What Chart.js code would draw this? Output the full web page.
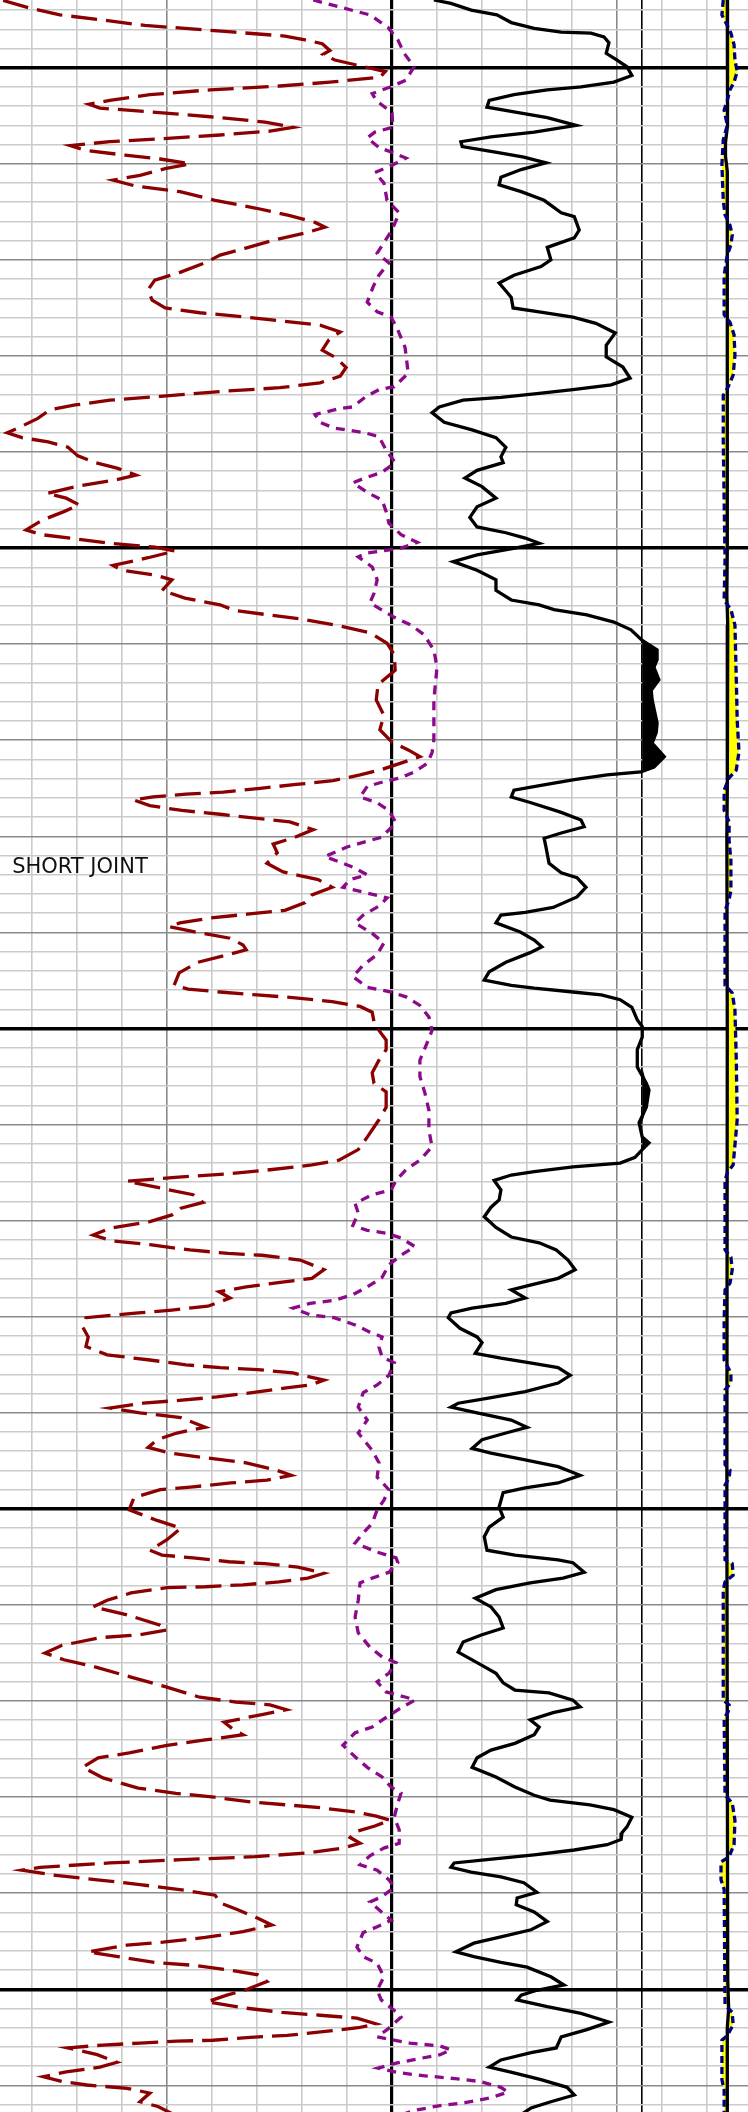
<!DOCTYPE html>
<html>
<head>
<meta charset="utf-8">
<script src="https://cdn.jsdelivr.net/npm/chart.js@4/dist/chart.umd.min.js"></script>
<style>
  html, body { margin: 0; padding: 0; background: #ffffff; }
  canvas { display: block; }
</style>
</head>
<body>
<canvas id="log_chart" width="748" height="2112"></canvas>
<script>
// depth window (ft) and track window (chart divisions)
const DEPTH_TOP = 1092.95;
const DEPTH_BOTTOM = 1312.77;
const DIV_LEFT = -8.7;
const DIV_RIGHT = 7.92;
const BASELINE = 5.57;   // cut-off line in track 2

// [depth, value] pairs
const redCurve = [
  [1093.0,-8.63],[1093.8,-8.03],[1094.5,-7.37],[1095.0,-6.48],[1095.6,-5.48],[1095.9,-4.59],[1096.3,-3.48],[1096.7,-2.37],[1097.1,-1.92],[1097.5,-1.54],
  [1098.2,-1.37],[1098.6,-1.52],[1099.2,-1.26],[1099.8,-0.70],[1100.4,-0.14],[1101.0,-0.26],[1101.5,-1.37],[1101.9,-2.48],[1102.3,-4.03],[1102.8,-5.37],
  [1103.4,-6.26],[1103.8,-6.72],[1104.2,-6.48],[1104.6,-5.37],[1105.1,-4.03],[1105.65,-2.81],[1106.2,-2.19],[1106.6,-2.70],[1107.0,-3.81],[1107.4,-5.14],
  [1107.7,-6.26],[1108.1,-7.14],[1108.6,-6.81],[1109.1,-5.92],[1109.5,-5.14],[1110.0,-4.48],[1110.5,-5.03],[1111.2,-5.59],[1111.7,-6.19],[1112.3,-5.70],
  [1112.9,-4.70],[1113.8,-3.92],[1114.6,-3.03],[1115.4,-2.26],[1116.1,-1.70],[1116.6,-1.48],[1117.2,-1.92],[1117.9,-2.59],[1118.8,-3.26],[1119.5,-3.81],
  [1120.3,-4.14],[1121.3,-4.70],[1122.1,-5.26],[1123.1,-5.41],[1124.2,-5.32],[1125.0,-5.03],[1125.5,-4.26],[1125.95,-3.26],[1126.4,-2.37],[1126.8,-1.59],
  [1127.5,-1.14],[1128.3,-1.39],[1129.4,-1.54],[1130.2,-1.23],[1131.2,-1.01],[1132.1,-1.14],[1132.8,-1.59],[1133.3,-2.48],[1133.7,-3.81],[1134.2,-5.14],
  [1134.6,-6.26],[1135.1,-7.03],[1135.6,-7.59],[1136.5,-7.86],[1137.3,-8.21],[1138.0,-8.54],[1138.5,-8.21],[1138.95,-7.63],[1139.5,-7.19],[1140.4,-6.97],
  [1141.1,-6.59],[1141.7,-6.08],[1142.4,-5.68],[1142.9,-6.14],[1143.5,-6.92],[1144.3,-7.66],[1144.8,-7.23],[1145.5,-6.94],[1146.2,-7.28],[1147.1,-7.77],
  [1148.1,-8.12],[1148.6,-7.77],[1149.05,-6.99],[1149.5,-6.26],[1149.9,-5.26],[1150.3,-4.81],[1151.0,-5.41],[1151.8,-6.19],[1152.3,-5.99],[1152.8,-5.26],
  [1153.3,-4.88],[1154.4,-5.10],[1155.2,-4.59],[1155.9,-3.81],[1156.5,-3.48],[1156.9,-2.81],[1157.4,-1.97],[1158.1,-1.14],[1158.8,-0.48],[1159.9,-0.10],
  [1161.1,0.06],[1162.7,0.08],[1164.2,-0.30],[1165.8,-0.34],[1167.4,-0.17],[1168.9,-0.26],[1170.2,0.01],[1171.0,0.37],[1171.7,0.63],[1172.4,0.19],
  [1173.1,-0.26],[1173.6,-0.70],[1174.2,-1.30],[1174.6,-2.12],[1175.0,-2.92],[1175.4,-3.74],[1175.6,-4.57],[1175.9,-5.30],[1176.2,-5.74],[1176.8,-5.37],
  [1177.3,-4.66],[1177.7,-3.81],[1178.1,-3.03],[1178.5,-2.26],[1179.3,-1.74],[1180.2,-2.21],[1180.8,-2.63],[1181.7,-2.54],[1182.8,-2.77],[1183.7,-2.41],
  [1184.5,-1.63],[1185.3,-1.32],[1186.1,-1.77],[1186.9,-1.92],[1187.7,-2.37],[1188.1,-3.21],[1188.5,-4.03],[1189.0,-4.70],[1189.4,-4.94],[1189.95,-4.37],
  [1190.6,-3.59],[1191.3,-3.30],[1191.8,-3.23],[1192.3,-3.63],[1193.1,-4.30],[1194.2,-4.72],[1195.5,-4.83],[1195.9,-4.52],[1196.2,-3.81],[1196.5,-2.99],
  [1196.8,-2.14],[1197.2,-1.32],[1197.7,-0.70],[1198.3,-0.43],[1199.3,-0.39],[1200.2,-0.28],[1201.2,-0.12],[1202.2,-0.12],[1203.3,-0.28],[1204.6,-0.43],
  [1205.7,-0.39],[1206.6,-0.12],[1208.2,-0.12],[1209.5,-0.28],[1211.3,-0.54],[1212.6,-0.74],[1213.7,-1.17],[1214.2,-1.77],[1214.7,-2.70],[1215.1,-3.59],
  [1215.5,-4.81],[1215.9,-5.88],[1216.6,-5.14],[1217.3,-4.41],[1218.1,-4.19],[1218.7,-4.68],[1219.4,-4.88],[1220.1,-5.37],[1220.8,-6.26],[1221.5,-6.63],
  [1222.1,-6.21],[1222.5,-5.37],[1223.05,-4.48],[1223.4,-3.63],[1223.6,-2.88],[1224.1,-2.03],[1225.1,-1.50],[1226.0,-1.77],[1226.4,-2.43],[1226.9,-3.23],
  [1227.4,-3.83],[1228.05,-3.59],[1228.9,-4.08],[1229.3,-4.88],[1229.6,-5.63],[1230.1,-6.79],[1231.1,-6.86],[1232.1,-6.74],[1233.1,-6.79],[1233.97,-6.32],
  [1234.5,-5.37],[1235.0,-4.57],[1235.3,-3.81],[1235.5,-2.97],[1235.85,-2.19],[1236.6,-1.50],[1237.1,-1.81],[1237.4,-2.34],[1237.9,-3.10],[1238.35,-3.88],
  [1238.7,-4.72],[1239.0,-5.52],[1239.5,-6.26],[1240.0,-5.59],[1240.5,-4.68],[1241.5,-4.14],[1242.1,-4.77],[1242.8,-5.21],[1243.6,-5.41],[1244.2,-4.90],
  [1244.7,-4.10],[1245.2,-3.23],[1245.95,-2.57],[1246.5,-2.23],[1247.0,-2.77],[1247.3,-3.57],[1247.7,-4.41],[1248.0,-5.14],[1248.8,-5.72],[1250.1,-5.83],
  [1251.2,-5.21],[1252.0,-4.68],[1253.2,-4.99],[1254.3,-5.37],[1254.8,-5.10],[1255.1,-4.41],[1255.5,-3.61],[1255.7,-2.81],[1256.05,-2.08],[1256.7,-1.50],
  [1257.2,-1.86],[1257.6,-2.50],[1257.9,-3.30],[1258.1,-4.14],[1258.2,-4.99],[1258.75,-5.79],[1259.5,-6.32],[1260.2,-6.63],[1261.0,-5.90],[1262.1,-5.14],
  [1262.6,-4.99],[1263.1,-5.59],[1263.4,-6.48],[1264.2,-7.32],[1265.0,-7.70],[1265.7,-7.28],[1266.45,-6.59],[1267.5,-5.79],[1268.5,-5.03],[1269.6,-4.26],
  [1270.1,-3.46],[1270.4,-2.70],[1270.9,-2.34],[1271.4,-2.88],[1272.2,-3.72],[1273.0,-3.50],[1273.5,-3.30],[1274.05,-4.14],[1274.6,-4.99],[1275.4,-5.83],
  [1275.9,-6.52],[1276.9,-6.86],[1278.0,-6.41],[1279.05,-5.63],[1279.6,-4.79],[1280.0,-3.94],[1280.5,-3.14],[1280.8,-2.34],[1281.1,-1.59],[1281.55,-0.79],
  [1281.97,-0.34],[1282.4,-0.03],[1283.0,-0.37],[1283.6,-0.81],[1284.2,-0.92],[1284.8,-0.70],[1285.3,-1.08],[1285.8,-1.86],[1286.2,-3.03],[1286.5,-4.66],
  [1286.85,-6.26],[1287.3,-7.81],[1287.6,-8.21],[1288.1,-7.52],[1288.6,-6.54],[1289.1,-5.59],[1289.7,-4.59],[1290.2,-3.92],[1291.0,-3.81],[1291.7,-3.43],
  [1292.6,-2.97],[1293.3,-2.66],[1294.0,-3.30],[1294.6,-4.14],[1295.1,-5.08],[1295.4,-5.88],[1296.1,-6.74],[1296.6,-6.08],[1297.2,-5.26],[1297.5,-4.41],
  [1298.0,-3.59],[1298.5,-2.97],[1299.2,-2.77],[1300.1,-3.26],[1300.6,-3.66],[1301.3,-4.10],[1301.95,-3.26],[1302.4,-2.43],[1302.7,-1.59],[1303.0,-0.77],
  [1303.6,-0.34],[1304.0,-0.74],[1304.4,-1.52],[1304.8,-2.32],[1305.0,-3.14],[1305.3,-3.97],[1305.4,-4.77],[1305.6,-5.59],[1305.8,-6.41],[1306.1,-7.19],
  [1306.8,-6.54],[1307.6,-6.10],[1308.1,-6.48],[1308.6,-7.23],[1309.1,-7.74],[1309.6,-7.32],[1309.96,-6.77],[1310.3,-5.88],[1310.8,-5.37],[1311.7,-5.59],
  [1312.2,-5.19],[1313.1,-4.81]
];

const purpleCurve = [
  [1092.95,-1.74],[1093.7,-1.14],[1094.5,-0.48],[1095.8,-0.08],[1097.1,0.14],[1098.5,0.28],[1099.9,0.50],[1101.3,0.32],[1102.0,-0.03],[1102.7,-0.43],
  [1103.4,-0.34],[1104.7,0.01],[1106.2,0.03],[1106.7,-0.37],[1107.3,-0.54],[1108.3,-0.28],[1108.9,0.06],[1109.4,0.32],[1110.2,-0.01],[1110.9,-0.37],
  [1112.0,-0.17],[1113.8,-0.10],[1115.1,0.17],[1116.9,0.01],[1118.2,-0.17],[1119.3,-0.32],[1120.3,-0.06],[1121.6,-0.28],[1122.8,-0.41],[1124.4,-0.54],
  [1125.4,-0.32],[1125.95,-0.01],[1127.3,0.14],[1129.1,0.30],[1131.8,0.37],[1133.2,0.06],[1133.5,-0.28],[1134.3,-0.59],[1135.3,-0.86],[1135.5,-1.17],
  [1136.1,-1.70],[1136.9,-1.59],[1137.5,-1.28],[1137.8,-0.86],[1138.0,-0.59],[1138.4,-0.28],[1139.8,-0.12],[1141.1,0.08],[1142.1,-0.21],[1142.7,-0.59],
  [1143.2,-0.86],[1144.2,-0.54],[1145.0,-0.21],[1146.2,-0.12],[1147.4,-0.06],[1148.6,0.21],[1149.4,0.57],[1150.0,0.21],[1150.5,-0.54],[1150.9,-0.74],
  [1151.96,-0.43],[1153.3,-0.32],[1154.7,-0.39],[1155.7,-0.48],[1156.4,-0.23],[1157.2,0.06],[1158.0,0.43],[1159.0,0.72],[1160.6,0.94],[1162.4,1.01],
  [1165.8,0.94],[1169.97,0.94],[1171.3,0.90],[1172.4,0.79],[1173.3,0.50],[1173.9,0.21],[1174.3,-0.17],[1174.8,-0.54],[1175.9,-0.70],[1176.5,-0.32],
  [1177.3,-0.06],[1178.6,0.10],[1180.1,-0.23],[1180.5,-0.54],[1181.1,-0.99],[1182.1,-1.48],[1182.8,-1.08],[1183.2,-0.86],[1184.0,-0.54],[1184.5,-0.92],
  [1185.3,-1.08],[1185.9,-0.54],[1186.4,-0.10],[1187.2,-0.26],[1188.2,-0.63],[1189.0,-0.81],[1190.1,-0.43],[1191.1,-0.17],[1192.3,-0.32],[1193.4,-0.63],
  [1194.6,-0.86],[1195.7,-0.54],[1196.2,-0.01],[1196.7,0.32],[1197.6,0.63],[1198.8,0.83],[1200.2,0.90],[1201.5,0.79],[1203.3,0.63],[1205.0,0.63],
  [1206.7,0.74],[1208.5,0.83],[1210.6,0.83],[1212.3,0.90],[1213.7,0.63],[1214.7,0.32],[1215.8,0.10],[1216.8,-0.01],[1217.3,-0.43],[1218.2,-0.81],
  [1219.2,-0.74],[1220.5,-0.86],[1221.0,-0.54],[1221.3,-0.12],[1221.8,0.21],[1222.7,0.52],[1223.6,0.21],[1224.6,-0.06],[1225.9,-0.21],[1226.9,-0.54],
  [1227.7,-0.86],[1228.3,-1.28],[1228.6,-1.81],[1229.1,-2.19],[1229.8,-1.81],[1230.1,-1.28],[1230.85,-0.81],[1231.6,-0.48],[1232.1,-0.21],[1233.15,-0.28],
  [1234.2,-0.21],[1234.8,0.06],[1236.1,-0.06],[1237.1,-0.32],[1237.9,-0.63],[1239.4,-0.74],[1240.75,-0.54],[1242.1,-0.74],[1243.9,-0.43],[1245.2,-0.28],
  [1246.7,-0.32],[1248.0,-0.06],[1249.1,-0.17],[1250.1,-0.32],[1251.5,-0.43],[1252.5,-0.63],[1253.55,-0.81],[1254.5,-0.32],[1255.1,0.10],[1255.6,0.14],
  [1256.6,-0.06],[1257.2,-0.43],[1257.7,-0.70],[1259.5,-0.74],[1261.25,-0.81],[1262.9,-0.74],[1264.4,-0.48],[1265.4,-0.21],[1266.0,0.10],[1267.1,-0.06],
  [1268.0,-0.32],[1269.05,-0.12],[1269.6,0.32],[1269.9,0.52],[1270.7,0.21],[1271.7,-0.12],[1272.7,-0.43],[1273.3,-0.81],[1274.6,-1.08],[1275.8,-0.81],
  [1276.9,-0.54],[1277.9,-0.21],[1278.95,-0.01],[1279.6,0.21],[1280.6,0.14],[1282.1,0.06],[1283.4,0.17],[1284.8,0.17],[1285.3,-0.17],[1286.1,-0.48],
  [1287.05,-0.70],[1287.6,-0.32],[1288.6,-0.06],[1289.4,0.06],[1290.4,-0.23],[1290.9,-0.48],[1292.8,-0.01],[1293.5,-0.32],[1294.1,-0.63],[1295.6,-0.77],
  [1296.6,-0.63],[1297.3,-0.32],[1298.7,-0.17],[1300.1,-0.32],[1301.1,-0.23],[1302.2,0.06],[1302.9,0.21],[1304.2,-0.10],[1304.95,-0.32],[1305.6,0.41],
  [1305.9,1.08],[1306.3,1.32],[1306.8,1.08],[1307.2,0.63],[1307.7,0.08],[1308.2,-0.30],[1308.7,0.19],[1309.0,0.74],[1309.3,1.41],[1309.6,1.97],
  [1310.2,2.43],[1310.7,2.59],[1311.3,2.19],[1311.8,1.63],[1312.1,1.08],[1312.6,0.52],[1313.1,0.19]
];

const blackCurve = [
  [1092.95,0.94],[1093.3,1.32],[1094.0,1.77],[1094.5,2.34],[1095.3,2.66],[1095.9,3.17],[1096.3,3.77],[1096.4,4.43],[1096.8,4.72],[1097.4,4.83],
  [1098.5,4.77],[1099.2,5.01],[1099.9,5.23],[1100.8,5.34],[1101.5,4.94],[1102.0,4.21],[1102.3,3.46],[1102.8,2.72],[1103.4,2.17],[1104.1,2.12],
  [1104.6,2.72],[1105.2,3.46],[1106.0,4.10],[1106.7,3.17],[1107.2,2.21],[1107.7,1.54],[1108.2,1.57],[1108.8,2.34],[1109.3,2.94],[1109.9,3.43],
  [1110.6,2.88],[1111.4,2.43],[1112.2,2.39],[1112.9,2.88],[1113.8,3.39],[1115.1,3.77],[1115.5,4.06],[1116.9,4.17],[1117.7,4.06],[1118.7,3.46],
  [1120.0,3.54],[1120.7,3.32],[1121.6,2.72],[1122.4,2.39],[1123.4,2.57],[1123.9,2.66],[1125.0,2.70],[1125.4,3.28],[1125.95,4.03],[1126.6,4.54],
  [1127.6,4.97],[1128.9,4.77],[1130.1,4.77],[1131.15,5.14],[1132.3,5.30],[1133.0,4.88],[1133.5,4.03],[1133.9,3.28],[1134.3,2.43],[1134.6,1.59],
  [1135.3,1.06],[1135.9,0.90],[1136.9,1.17],[1137.7,1.79],[1138.5,2.32],[1139.5,2.54],[1140.5,2.43],[1141.1,2.48],[1141.9,1.90],[1142.7,1.63],
  [1143.6,2.01],[1144.8,2.32],[1145.7,1.90],[1146.8,1.74],[1147.8,1.90],[1148.4,2.54],[1148.95,2.97],[1149.5,3.28],[1150.0,2.74],[1150.7,1.90],
  [1151.4,1.37],[1152.3,1.90],[1153.3,2.32],[1154.4,2.32],[1155.4,2.66],[1155.9,3.28],[1156.4,3.61],[1156.95,4.34],[1157.7,4.94],[1158.5,5.32],
  [1159.6,5.57],[1160.6,5.90],[1161.6,5.90],[1162.4,5.83],[1163.7,5.94],[1164.8,5.77],[1165.8,5.79],[1168.2,5.90],[1169.2,5.88],[1170.3,5.79],
  [1171.7,6.06],[1172.8,5.83],[1173.3,5.54],[1173.6,4.79],[1174.1,4.06],[1174.7,3.32],[1175.2,2.72],[1175.9,2.66],[1176.5,3.10],[1177.5,3.77],
  [1178.3,4.21],[1179.0,4.28],[1179.65,3.77],[1180.2,3.39],[1181.1,3.43],[1182.8,3.50],[1183.8,3.77],[1184.3,4.12],[1185.3,4.32],[1186.3,4.12],
  [1187.4,3.59],[1187.9,2.97],[1188.2,2.43],[1189.0,2.32],[1189.95,2.86],[1190.8,3.17],[1191.5,3.34],[1192.1,3.08],[1193.1,2.54],[1194.1,2.17],
  [1194.95,2.06],[1195.5,2.66],[1195.8,3.17],[1196.2,4.03],[1196.5,4.66],[1197.0,5.08],[1197.8,5.34],[1199.1,5.46],[1199.8,5.57],[1200.9,5.57],
  [1202.2,5.46],[1204.0,5.46],[1205.7,5.66],[1206.4,5.72],[1208.2,5.66],[1209.8,5.50],[1211.3,5.57],[1211.9,5.72],[1212.6,5.57],[1213.4,5.41],
  [1214.0,5.08],[1214.4,4.03],[1214.9,3.17],[1215.25,2.66],[1215.8,2.28],[1216.8,2.43],[1217.85,2.39],[1218.6,2.21],[1219.6,2.06],[1220.7,2.32],
  [1221.7,2.66],[1222.3,3.28],[1223.05,3.66],[1224.1,3.92],[1225.1,4.08],[1226.0,3.70],[1226.7,3.08],[1227.2,2.66],[1228.05,2.97],[1228.6,2.54],
  [1229.1,1.79],[1229.6,1.32],[1230.1,1.26],[1231.2,1.52],[1232.1,1.90],[1232.7,2.01],[1233.8,1.86],[1234.3,2.43],[1234.8,3.08],[1235.3,3.70],
  [1236.1,3.97],[1236.9,3.70],[1237.8,2.97],[1238.5,2.12],[1239.0,1.48],[1239.4,1.32],[1240.0,1.90],[1240.75,2.66],[1241.5,3.01],[1242.1,2.54],
  [1242.8,2.01],[1243.7,1.79],[1244.2,2.21],[1244.9,2.97],[1245.6,3.70],[1246.5,4.19],[1247.3,3.70],[1247.8,2.97],[1248.3,2.48],[1249.8,2.39],
  [1250.85,2.48],[1251.9,2.17],[1252.9,2.06],[1254.3,2.12],[1254.8,2.74],[1255.3,3.70],[1255.6,4.03],[1256.6,4.28],[1257.2,3.81],[1257.7,3.08],
  [1258.4,2.32],[1259.3,1.86],[1260.2,2.21],[1261.25,2.39],[1262.4,2.48],[1263.1,2.01],[1263.85,1.59],[1264.9,1.48],[1266.0,1.90],[1267.1,2.32],
  [1268.1,2.48],[1268.85,2.74],[1269.15,3.50],[1269.9,4.03],[1270.6,4.19],[1271.2,3.59],[1271.95,3.08],[1272.7,3.28],[1273.5,3.17],[1274.4,2.74],
  [1275.1,2.21],[1275.9,1.90],[1276.9,1.79],[1277.9,2.32],[1278.95,2.74],[1279.8,3.17],[1280.3,3.52],[1280.8,4.41],[1281.3,4.94],[1282.1,5.34],
  [1283.1,5.23],[1283.7,5.12],[1284.4,5.10],[1284.95,4.79],[1285.5,4.06],[1286.0,3.17],[1286.5,2.12],[1286.85,1.39],[1287.3,1.32],[1287.8,1.77],
  [1288.3,2.43],[1288.9,2.94],[1289.9,3.23],[1290.5,2.79],[1291.2,2.77],[1291.95,3.17],[1292.95,3.46],[1293.8,3.10],[1294.55,2.43],[1295.2,1.83],
  [1296.1,1.43],[1296.6,1.83],[1297.2,2.43],[1297.7,3.01],[1298.7,3.54],[1299.55,3.83],[1300.1,3.23],[1300.6,2.88],[1301.1,2.79],[1301.8,3.46],
  [1302.5,4.21],[1303.4,4.83],[1304.2,4.34],[1304.95,3.77],[1306.1,3.66],[1306.6,3.10],[1307.35,2.43],[1308.1,2.17],[1308.7,2.72],[1309.4,3.32],
  [1310.2,3.90],[1311.0,4.06],[1311.7,3.54],[1312.35,3.10],[1313.1,2.86]
];

const rightSolid = [
  [1092.95,7.46],[1100.0,7.47],[1106.0,7.46],[1107.8,7.42],[1109.2,7.42],[1110.8,7.46],[1150.0,7.46],[1155.0,7.45],
  [1158.0,7.47],[1175.0,7.46],[1180.0,7.45],[1200.0,7.46],[1250.0,7.45],[1299.0,7.47],[1302.0,7.49],[1304.0,7.46],[1313.1,7.46]
];

const rightDashed = [
  [1092.95,7.37],[1094.5,7.34],[1095.6,7.46],[1096.4,7.54],[1097.6,7.61],[1099.2,7.63],[1100.4,7.68],[1101.5,7.61],[1102.3,7.52],[1103.4,7.46],
  [1104.4,7.39],[1106.0,7.46],[1107.5,7.37],[1110.1,7.34],[1113.8,7.37],[1115.3,7.41],[1116.4,7.52],[1117.4,7.57],[1118.45,7.54],[1119.5,7.46],
  [1121.6,7.39],[1125.7,7.39],[1126.5,7.52],[1127.8,7.61],[1129.9,7.63],[1132.0,7.59],[1133.2,7.48],[1134.1,7.37],[1138.7,7.37],[1145.0,7.39],
  [1151.2,7.41],[1155.4,7.39],[1156.4,7.54],[1158.0,7.63],[1163.7,7.66],[1167.9,7.68],[1171.2,7.72],[1173.1,7.66],[1173.9,7.50],[1175.2,7.39],
  [1177.3,7.39],[1178.5,7.50],[1180.4,7.50],[1182.5,7.54],[1185.6,7.54],[1186.6,7.50],[1187.7,7.41],[1195.5,7.41],[1196.3,7.57],[1198.1,7.63],
  [1203.3,7.66],[1209.5,7.68],[1214.2,7.59],[1215.0,7.46],[1215.8,7.41],[1223.05,7.41],[1223.8,7.54],[1225.1,7.57],[1226.5,7.52],[1227.2,7.41],
  [1230.3,7.39],[1234.5,7.39],[1235.85,7.54],[1236.9,7.54],[1237.6,7.41],[1245.4,7.41],[1245.95,7.52],[1246.8,7.50],[1247.5,7.41],[1255.3,7.41],
  [1255.7,7.57],[1256.9,7.59],[1257.6,7.41],[1258.4,7.37],[1269.9,7.37],[1270.4,7.50],[1271.1,7.48],[1271.8,7.39],[1279.8,7.41],[1280.6,7.57],
  [1282.4,7.63],[1284.95,7.61],[1286.2,7.50],[1286.75,7.32],[1288.6,7.32],[1289.6,7.39],[1301.6,7.41],[1302.4,7.57],[1303.7,7.59],[1304.8,7.46],
  [1305.3,7.34],[1309.4,7.34],[1310.5,7.39],[1313.1,7.39]
];

const notes = [
  { depth: 1183.8, value: -8.43, text: 'SHORT JOINT' }
];

const DEPTH_STEP = 2;
const xTicks = [-8, -7, -6, -5, -4, -3, -2, -1, 0, 1, 2, 3, 4, 5, BASELINE, 6, 7];


function toPoints(curve) {
  return curve.map(([d, v]) => ({ x: v, y: d }));
}

// area beyond the cut-off line, closed along the line itself
function overBaseline(curve) {
  var pts = [{ x: BASELINE, y: curve[0][0] }];
  for ([d, v] of curve) {
    pts.push({ x: Math.max(v, BASELINE), y: d });
  }
  pts.push({ x: BASELINE, y: curve[curve.length - 1][0] });
  return pts;
}

// area between the two right hand curves
function between(a, b) {
  var pts = toPoints(a);
  for (var i = b.length - 1; i >= 0; i--) {
    pts.push({ x: b[i][1], y: b[i][0] });
  }
  return pts;
}

function depthTicks() {
  var ticks = [];
  for (var d = Math.ceil(DEPTH_TOP / DEPTH_STEP) * DEPTH_STEP; d <= DEPTH_BOTTOM; d += DEPTH_STEP) {
    ticks.push({ value: d });
  }
  return ticks;
}

function ycolor(ctx) {
  var v = ctx.tick.value;
  if (v % 50 === 0) return '#000000';
  if (v % 10 === 0) return '#8a8a8a';
  return '#cbcbcb';
}

function ywidth(ctx) {
  return ctx.tick.value % 50 === 0 ? 3.5 : 1.6;
}

function xcolor(ctx) {
  var v = ctx.tick.value;
  if (v === 0 || v === BASELINE) return '#000000';
  if (v === 5 || v === -5) return '#8a8a8a';
  return '#cbcbcb';
}

function xwidth(ctx) {
  return ctx.tick.value === 0 ? 3.2 : 1.6;
}

const notePlugin = {
  id: 'notes',
  afterDatasetsDraw(chart) {
    const c = chart.ctx;
    c.save();
    c.fillStyle = '#111111';
    c.font = 'normal 21px "DejaVu Sans"';
    c.textBaseline = 'alphabetic';
    for (n of notes) {
      c.fillText(n.text, chart.scales.x.getPixelForValue(n.value), chart.scales.y.getPixelForValue(n.depth));
    }
    c.restore();
  }
};


function init() {
  const e = document.getElementById('log_chart');
  new Chart(e, {
    type: 'scatter',
    data: {
      datasets: [
        {
          data: toPoints(redCurve),
          showLine: true,
          borderColor: '#8b0000',
          borderWidth: 3.3,
          borderDash: [26, 9],
          order: 1
        },
        {
          data: toPoints(purpleCurve),
          showLine: true,
          borderColor: '#8a0a8a',
          borderWidth: 3.3,
          borderDash: [9, 7],
          order: 2
        },
        {
          data: toPoints(blackCurve),
          showLine: true,
          borderColor: '#000000',
          borderWidth: 3.3,
          order: 1
        },
        {
          data: overBaseline(blackCurve),
          showLine: true,
          borderWidth: 0,
          borderColor: 'rgba(0,0,0,0)',
          backgroundColor: '#000000',
          fill: 'shape',
          order: 5
        },
        {
          data: between(rightDashed, rightSolid),
          showLine: true,
          borderWidth: 0,
          borderColor: 'rgba(0,0,0,0)',
          backgroundColor: '#ffff00',
          fill: 'shape',
          order: 6
        },
        {
          data: toPoints(rightSolid),
          showLine: true,
          borderColor: '#000000',
          borderWidth: 3.3,
          order: 2
        },
        {
          data: toPoints(rightDashed),
          showLine: true,
          borderColor: '#00007f',
          borderWidth: 3.3,
          borderDash: [7, 4],
          order: 1
        }
      ]
    },
    options: {
      responsive: false,
      animation: false,
      devicePixelRatio: 1,
      layout: { padding: 0 },
      elements: { point: { radius: 0, hoverRadius: 0 }, line: { tension: 0 } },
      plugins: { legend: { display: false }, tooltip: { enabled: false } },
      scales: {
        x: {
          type: 'linear',
          min: DIV_LEFT,
          max: DIV_RIGHT,
          afterBuildTicks: s => { s.ticks = xTicks.map(v => ({ value: v })); },
          ticks: { display: false },
          grid: { drawTicks: false, color: xcolor, lineWidth: xwidth },
          border: { display: false }
        },
        y: {
          type: 'linear',
          reverse: true,
          min: DEPTH_TOP,
          max: DEPTH_BOTTOM,
          afterBuildTicks: s => { s.ticks = depthTicks(); },
          ticks: { display: false },
          grid: { drawTicks: false, color: ycolor, lineWidth: ywidth },
          border: { display: false }
        }
      }
    },
    plugins: [notePlugin]
  });
}

init();
</script>
</body>
</html>
